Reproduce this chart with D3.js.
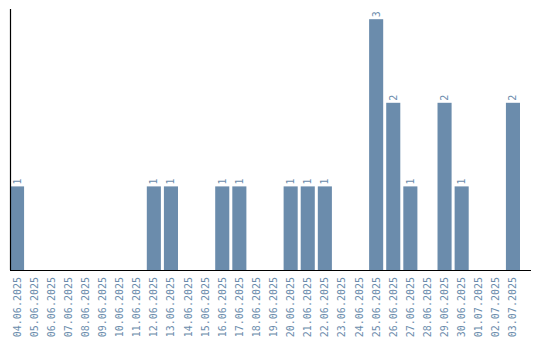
<!DOCTYPE html>
<html>
<head>
<meta charset="utf-8">
<script src="https://cdn.jsdelivr.net/npm/d3@7"></script>
<style>
  body { margin: 0; background: #fff; }
  svg { display: block; }
</style>
</head>
<body>
<svg id="chart" width="540" height="340"></svg>
<script>
const dates = [
  "04.06.2025", "05.06.2025", "06.06.2025", "07.06.2025", "08.06.2025",
  "09.06.2025", "10.06.2025", "11.06.2025", "12.06.2025", "13.06.2025",
  "14.06.2025", "15.06.2025", "16.06.2025", "17.06.2025", "18.06.2025",
  "19.06.2025", "20.06.2025", "21.06.2025", "22.06.2025", "23.06.2025",
  "24.06.2025", "25.06.2025", "26.06.2025", "27.06.2025", "28.06.2025",
  "29.06.2025", "30.06.2025", "01.07.2025", "02.07.2025", "03.07.2025"
];
const counts = [
  1, 0, 0, 0, 0,
  0, 0, 0, 1, 1,
  0, 0, 1, 1, 0,
  0, 1, 1, 1, 0,
  0, 3, 2, 1, 0,
  2, 1, 0, 0, 2
];

const margin = { top: 10, right: 10, bottom: 70, left: 10 };
const width = 540, height = 340;
const barColor = "#6b8cac";
const labelFont = "'DejaVu Sans Mono', monospace";

const svg = d3.select("#chart");
const g = svg.append("g");

// band scale: step 17px, bars 14px wide, starting at the y axis
const x = d3.scaleBand()
  .domain(dates)
  .range([margin.left, margin.left + 17 * dates.length])
  .paddingInner(3 / 17)
  .paddingOuter(0)
  .align(0);

const y = d3.scaleLinear()
  .domain([0, 3.11])
  .range([height - margin.bottom, margin.top]);

const data = dates.map((d, i) => ({ date: d, value: counts[i] }));

// bars
g.selectAll("rect.bar")
  .data(data.filter(d => d.value > 0))
  .enter().append("rect")
  .attr("class", "bar")
  .attr("x", d => x(d.date))
  .attr("y", d => y(d.value))
  .attr("width", x.bandwidth())
  .attr("height", d => y(0) - y(d.value))
  .attr("fill", barColor);

// value labels, rotated
g.selectAll("text.val")
  .data(data.filter(d => d.value > 0))
  .enter().append("text")
  .attr("class", "val")
  .attr("transform", d => `translate(${x(d.date) + x.bandwidth() / 2 + 3.5},${y(d.value) - 2}) rotate(-90)`)
  .attr("text-anchor", "start")
  .attr("font-family", labelFont)
  .attr("font-size", "10px")
  .attr("fill", barColor)
  .text(d => d.value);

// x tick labels
g.selectAll("text.tick")
  .data(dates)
  .enter().append("text")
  .attr("class", "tick")
  .attr("transform", d => `translate(${x(d) + x.bandwidth() / 2 + 3.5},${y(0) + 7}) rotate(-90)`)
  .attr("text-anchor", "end")
  .attr("font-family", labelFont)
  .attr("font-size", "10px")
  .attr("fill", barColor)
  .text(d => d);

// axes lines
g.append("line")
  .attr("x1", margin.left + 0.5).attr("x2", margin.left + 0.5)
  .attr("y1", margin.top - 1).attr("y2", y(0))
  .attr("stroke", "#000").attr("stroke-width", 1.2);

g.append("line")
  .attr("x1", margin.left).attr("x2", width - margin.right + 1)
  .attr("y1", y(0) + 0.5).attr("y2", y(0) + 0.5)
  .attr("stroke", "#000").attr("stroke-width", 1.2);
</script>
</body>
</html>
